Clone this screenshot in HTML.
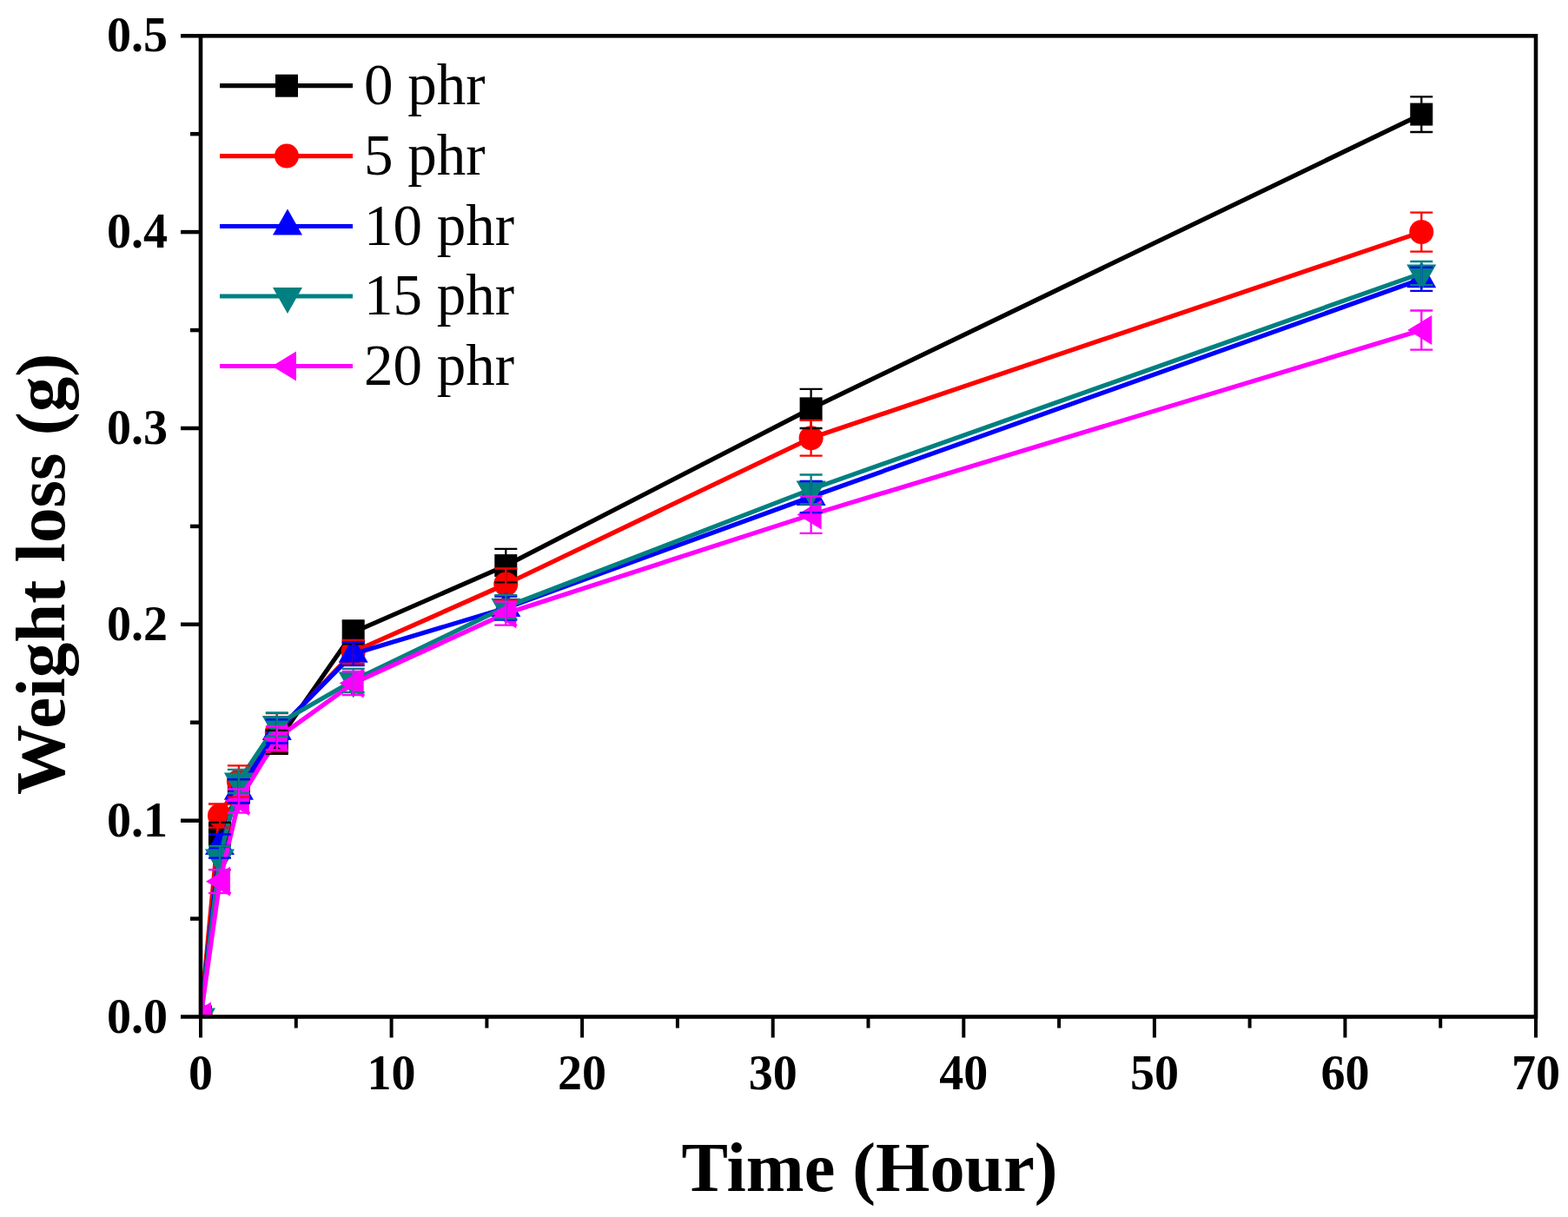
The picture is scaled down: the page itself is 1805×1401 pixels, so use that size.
<!DOCTYPE html>
<html><head><meta charset="utf-8"><title>Weight loss vs Time</title>
<style>
html,body{margin:0;padding:0;background:#fff;width:1805px;height:1401px;overflow:hidden}
svg{display:block}
text{font-family:"Liberation Serif","Times New Roman",serif;fill:#000}
.tl{font-weight:bold;font-size:56px}
.at{font-weight:bold;font-size:81px}
.lg{font-size:67px}
</style></head><body>
<svg width="1805" height="1401" viewBox="0 0 1805 1401">
<defs><clipPath id="pc"><rect x="231.0" y="41.3" width="1537.0" height="1129.2"/></clipPath></defs>
<rect width="1805" height="1401" fill="#fff"/>
<g clip-path="url(#pc)">
<polyline points="231.0,1170.5 253.0,960.5 274.9,910.8 318.8,854.3 406.7,727.9 582.3,651.1 933.6,470.4 1636.3,131.6" fill="none" stroke="#000000" stroke-width="5.2" stroke-linejoin="round"/>
<rect x="218.0" y="1157.5" width="26" height="26" fill="#000000"/>
<rect x="240.0" y="947.5" width="26" height="26" fill="#000000"/>
<rect x="261.9" y="897.8" width="26" height="26" fill="#000000"/>
<rect x="305.8" y="841.3" width="26" height="26" fill="#000000"/>
<rect x="393.7" y="714.9" width="26" height="26" fill="#000000"/>
<rect x="569.3" y="638.1" width="26" height="26" fill="#000000"/>
<rect x="920.6" y="457.4" width="26" height="26" fill="#000000"/>
<rect x="1623.3" y="118.6" width="26" height="26" fill="#000000"/>
<polyline points="231.0,1170.5 253.0,939.0 274.9,899.5 318.8,843.0 406.7,750.4 582.3,672.5 933.6,504.3 1636.3,267.1" fill="none" stroke="#ff0000" stroke-width="5.2" stroke-linejoin="round"/>
<circle cx="231.0" cy="1170.5" r="14" fill="#ff0000"/>
<circle cx="253.0" cy="939.0" r="14" fill="#ff0000"/>
<circle cx="274.9" cy="899.5" r="14" fill="#ff0000"/>
<circle cx="318.8" cy="843.0" r="14" fill="#ff0000"/>
<circle cx="406.7" cy="750.4" r="14" fill="#ff0000"/>
<circle cx="582.3" cy="672.5" r="14" fill="#ff0000"/>
<circle cx="933.6" cy="504.3" r="14" fill="#ff0000"/>
<circle cx="1636.3" cy="267.1" r="14" fill="#ff0000"/>
<polyline points="231.0,1170.5 253.0,974.0 274.9,910.8 318.8,841.9 406.7,752.7 582.3,700.1 933.6,572.0 1636.3,321.3" fill="none" stroke="#0000ff" stroke-width="5.2" stroke-linejoin="round"/>
<polygon points="231.0,1150.5 248.0,1180.5 214.0,1180.5" fill="#0000ff"/>
<polygon points="253.0,954.0 270.0,984.0 236.0,984.0" fill="#0000ff"/>
<polygon points="274.9,890.8 291.9,920.8 257.9,920.8" fill="#0000ff"/>
<polygon points="318.8,821.9 335.8,851.9 301.8,851.9" fill="#0000ff"/>
<polygon points="406.7,732.7 423.7,762.7 389.7,762.7" fill="#0000ff"/>
<polygon points="582.3,680.1 599.3,710.1 565.3,710.1" fill="#0000ff"/>
<polygon points="933.6,552.0 950.6,582.0 916.6,582.0" fill="#0000ff"/>
<polygon points="1636.3,301.3 1653.3,331.3 1619.3,331.3" fill="#0000ff"/>
<polyline points="231.0,1170.5 253.0,987.6 274.9,899.5 318.8,834.0 406.7,783.4 582.3,698.7 933.6,563.4 1636.3,314.6" fill="none" stroke="#008080" stroke-width="5.2" stroke-linejoin="round"/>
<polygon points="231.0,1190.5 248.0,1160.5 214.0,1160.5" fill="#008080"/>
<polygon points="253.0,1007.6 270.0,977.6 236.0,977.6" fill="#008080"/>
<polygon points="274.9,919.5 291.9,889.5 257.9,889.5" fill="#008080"/>
<polygon points="318.8,854.0 335.8,824.0 301.8,824.0" fill="#008080"/>
<polygon points="406.7,803.4 423.7,773.4 389.7,773.4" fill="#008080"/>
<polygon points="582.3,718.7 599.3,688.7 565.3,688.7" fill="#008080"/>
<polygon points="933.6,583.4 950.6,553.4 916.6,553.4" fill="#008080"/>
<polygon points="1636.3,334.6 1653.3,304.6 1619.3,304.6" fill="#008080"/>
<polyline points="231.0,1170.5 253.0,1014.7 274.9,922.1 318.8,849.8 406.7,786.6 582.3,706.2 933.6,592.6 1636.3,380.1" fill="none" stroke="#ff00ff" stroke-width="5.2" stroke-linejoin="round"/>
<polygon points="215.0,1170.5 243.0,1153.5 243.0,1187.5" fill="#ff00ff"/>
<polygon points="237.0,1014.7 265.0,997.7 265.0,1031.7" fill="#ff00ff"/>
<polygon points="258.9,922.1 286.9,905.1 286.9,939.1" fill="#ff00ff"/>
<polygon points="302.8,849.8 330.8,832.8 330.8,866.8" fill="#ff00ff"/>
<polygon points="390.7,786.6 418.7,769.6 418.7,803.6" fill="#ff00ff"/>
<polygon points="566.3,706.2 594.3,689.2 594.3,723.2" fill="#ff00ff"/>
<polygon points="917.6,592.6 945.6,575.6 945.6,609.6" fill="#ff00ff"/>
<polygon points="1620.3,380.1 1648.3,363.1 1648.3,397.1" fill="#ff00ff"/>
<path d="M253.0,946.9V974.0M240.0,946.9H266.0M240.0,974.0H266.0" stroke="#000000" stroke-width="2.3" fill="none"/>
<path d="M274.9,897.2V924.3M261.9,897.2H287.9M261.9,924.3H287.9" stroke="#000000" stroke-width="2.3" fill="none"/>
<path d="M318.8,840.8V867.9M305.8,840.8H331.8M305.8,867.9H331.8" stroke="#000000" stroke-width="2.3" fill="none"/>
<path d="M406.7,714.3V741.4M393.7,714.3H419.7M393.7,741.4H419.7" stroke="#000000" stroke-width="2.3" fill="none"/>
<path d="M582.3,631.9V670.3M569.3,631.9H595.3M569.3,670.3H595.3" stroke="#000000" stroke-width="2.3" fill="none"/>
<path d="M933.6,447.8V493.0M920.6,447.8H946.6M920.6,493.0H946.6" stroke="#000000" stroke-width="2.3" fill="none"/>
<path d="M1636.3,111.3V152.0M1623.3,111.3H1649.3M1623.3,152.0H1649.3" stroke="#000000" stroke-width="2.3" fill="none"/>
<path d="M253.0,925.5V952.6M240.0,925.5H266.0M240.0,952.6H266.0" stroke="#ff0000" stroke-width="2.3" fill="none"/>
<path d="M274.9,881.4V917.6M261.9,881.4H287.9M261.9,917.6H287.9" stroke="#ff0000" stroke-width="2.3" fill="none"/>
<path d="M318.8,821.1V864.9M305.8,821.1H331.8M305.8,864.9H331.8" stroke="#ff0000" stroke-width="2.3" fill="none"/>
<path d="M406.7,736.9V764.0M393.7,736.9H419.7M393.7,764.0H419.7" stroke="#ff0000" stroke-width="2.3" fill="none"/>
<path d="M582.3,654.5V690.6M569.3,654.5H595.3M569.3,690.6H595.3" stroke="#ff0000" stroke-width="2.3" fill="none"/>
<path d="M933.6,483.9V524.6M920.6,483.9H946.6M920.6,524.6H946.6" stroke="#ff0000" stroke-width="2.3" fill="none"/>
<path d="M1636.3,244.6V289.7M1623.3,244.6H1649.3M1623.3,289.7H1649.3" stroke="#ff0000" stroke-width="2.3" fill="none"/>
<path d="M253.0,960.5V987.6M240.0,960.5H266.0M240.0,987.6H266.0" stroke="#0000ff" stroke-width="2.3" fill="none"/>
<path d="M274.9,897.2V924.3M261.9,897.2H287.9M261.9,924.3H287.9" stroke="#0000ff" stroke-width="2.3" fill="none"/>
<path d="M318.8,828.4V855.5M305.8,828.4H331.8M305.8,855.5H331.8" stroke="#0000ff" stroke-width="2.3" fill="none"/>
<path d="M406.7,739.1V766.2M393.7,739.1H419.7M393.7,766.2H419.7" stroke="#0000ff" stroke-width="2.3" fill="none"/>
<path d="M582.3,686.5V713.6M569.3,686.5H595.3M569.3,713.6H595.3" stroke="#0000ff" stroke-width="2.3" fill="none"/>
<path d="M933.6,554.0V590.1M920.6,554.0H946.6M920.6,590.1H946.6" stroke="#0000ff" stroke-width="2.3" fill="none"/>
<path d="M1636.3,307.8V334.9M1623.3,307.8H1649.3M1623.3,334.9H1649.3" stroke="#0000ff" stroke-width="2.3" fill="none"/>
<path d="M253.0,974.0V1001.1M240.0,974.0H266.0M240.0,1001.1H266.0" stroke="#008080" stroke-width="2.3" fill="none"/>
<path d="M274.9,885.9V913.0M261.9,885.9H287.9M261.9,913.0H287.9" stroke="#008080" stroke-width="2.3" fill="none"/>
<path d="M318.8,820.4V847.5M305.8,820.4H331.8M305.8,847.5H331.8" stroke="#008080" stroke-width="2.3" fill="none"/>
<path d="M406.7,769.9V797.0M393.7,769.9H419.7M393.7,797.0H419.7" stroke="#008080" stroke-width="2.3" fill="none"/>
<path d="M582.3,685.2V712.3M569.3,685.2H595.3M569.3,712.3H595.3" stroke="#008080" stroke-width="2.3" fill="none"/>
<path d="M933.6,546.5V580.4M920.6,546.5H946.6M920.6,580.4H946.6" stroke="#008080" stroke-width="2.3" fill="none"/>
<path d="M1636.3,301.0V328.1M1623.3,301.0H1649.3M1623.3,328.1H1649.3" stroke="#008080" stroke-width="2.3" fill="none"/>
<path d="M253.0,1001.1V1028.2M240.0,1001.1H266.0M240.0,1028.2H266.0" stroke="#ff00ff" stroke-width="2.3" fill="none"/>
<path d="M274.9,908.5V935.6M261.9,908.5H287.9M261.9,935.6H287.9" stroke="#ff00ff" stroke-width="2.3" fill="none"/>
<path d="M318.8,836.3V863.4M305.8,836.3H331.8M305.8,863.4H331.8" stroke="#ff00ff" stroke-width="2.3" fill="none"/>
<path d="M406.7,773.0V800.1M393.7,773.0H419.7M393.7,800.1H419.7" stroke="#ff00ff" stroke-width="2.3" fill="none"/>
<path d="M582.3,692.6V719.7M569.3,692.6H595.3M569.3,719.7H595.3" stroke="#ff00ff" stroke-width="2.3" fill="none"/>
<path d="M933.6,571.3V613.8M920.6,571.3H946.6M920.6,613.8H946.6" stroke="#ff00ff" stroke-width="2.3" fill="none"/>
<path d="M1636.3,357.5V402.6M1623.3,357.5H1649.3M1623.3,402.6H1649.3" stroke="#ff00ff" stroke-width="2.3" fill="none"/>
</g>
<rect x="231.0" y="41.3" width="1537.0" height="1129.2" fill="none" stroke="#000" stroke-width="4.6"/>
<line x1="208.0" y1="1170.5" x2="231.0" y2="1170.5" stroke="#000" stroke-width="4.5"/>
<line x1="219.0" y1="1057.6" x2="231.0" y2="1057.6" stroke="#000" stroke-width="4.5"/>
<line x1="208.0" y1="944.7" x2="231.0" y2="944.7" stroke="#000" stroke-width="4.5"/>
<line x1="219.0" y1="831.7" x2="231.0" y2="831.7" stroke="#000" stroke-width="4.5"/>
<line x1="208.0" y1="718.8" x2="231.0" y2="718.8" stroke="#000" stroke-width="4.5"/>
<line x1="219.0" y1="605.9" x2="231.0" y2="605.9" stroke="#000" stroke-width="4.5"/>
<line x1="208.0" y1="493.0" x2="231.0" y2="493.0" stroke="#000" stroke-width="4.5"/>
<line x1="219.0" y1="380.1" x2="231.0" y2="380.1" stroke="#000" stroke-width="4.5"/>
<line x1="208.0" y1="267.1" x2="231.0" y2="267.1" stroke="#000" stroke-width="4.5"/>
<line x1="219.0" y1="154.2" x2="231.0" y2="154.2" stroke="#000" stroke-width="4.5"/>
<line x1="208.0" y1="41.3" x2="231.0" y2="41.3" stroke="#000" stroke-width="4.5"/>
<line x1="231.0" y1="1170.5" x2="231.0" y2="1194.5" stroke="#000" stroke-width="4"/>
<line x1="340.8" y1="1170.5" x2="340.8" y2="1183.5" stroke="#000" stroke-width="4"/>
<line x1="450.6" y1="1170.5" x2="450.6" y2="1194.5" stroke="#000" stroke-width="4"/>
<line x1="560.4" y1="1170.5" x2="560.4" y2="1183.5" stroke="#000" stroke-width="4"/>
<line x1="670.1" y1="1170.5" x2="670.1" y2="1194.5" stroke="#000" stroke-width="4"/>
<line x1="779.9" y1="1170.5" x2="779.9" y2="1183.5" stroke="#000" stroke-width="4"/>
<line x1="889.7" y1="1170.5" x2="889.7" y2="1194.5" stroke="#000" stroke-width="4"/>
<line x1="999.5" y1="1170.5" x2="999.5" y2="1183.5" stroke="#000" stroke-width="4"/>
<line x1="1109.3" y1="1170.5" x2="1109.3" y2="1194.5" stroke="#000" stroke-width="4"/>
<line x1="1219.1" y1="1170.5" x2="1219.1" y2="1183.5" stroke="#000" stroke-width="4"/>
<line x1="1328.9" y1="1170.5" x2="1328.9" y2="1194.5" stroke="#000" stroke-width="4"/>
<line x1="1438.6" y1="1170.5" x2="1438.6" y2="1183.5" stroke="#000" stroke-width="4"/>
<line x1="1548.4" y1="1170.5" x2="1548.4" y2="1194.5" stroke="#000" stroke-width="4"/>
<line x1="1658.2" y1="1170.5" x2="1658.2" y2="1183.5" stroke="#000" stroke-width="4"/>
<line x1="1768.0" y1="1170.5" x2="1768.0" y2="1194.5" stroke="#000" stroke-width="4"/>
<text x="193" y="1188.5" text-anchor="end" class="tl">0.0</text>
<text x="193" y="962.7" text-anchor="end" class="tl">0.1</text>
<text x="193" y="736.8" text-anchor="end" class="tl">0.2</text>
<text x="193" y="511.0" text-anchor="end" class="tl">0.3</text>
<text x="193" y="285.1" text-anchor="end" class="tl">0.4</text>
<text x="193" y="59.3" text-anchor="end" class="tl">0.5</text>
<text x="231.0" y="1254" text-anchor="middle" class="tl">0</text>
<text x="450.6" y="1254" text-anchor="middle" class="tl">10</text>
<text x="670.1" y="1254" text-anchor="middle" class="tl">20</text>
<text x="889.7" y="1254" text-anchor="middle" class="tl">30</text>
<text x="1109.3" y="1254" text-anchor="middle" class="tl">40</text>
<text x="1328.9" y="1254" text-anchor="middle" class="tl">50</text>
<text x="1548.4" y="1254" text-anchor="middle" class="tl">60</text>
<text x="1768.0" y="1254" text-anchor="middle" class="tl">70</text>
<text x="1001" y="1371" text-anchor="middle" class="at" textLength="433" lengthAdjust="spacingAndGlyphs">Time (Hour)</text>
<text transform="translate(74,661) rotate(-90)" text-anchor="middle" class="at">Weight loss (g)</text>
<line x1="253" y1="98.7" x2="406" y2="98.7" stroke="#000000" stroke-width="5.2"/>
<rect x="317.0" y="85.7" width="26" height="26" fill="#000000"/>
<text x="419" y="119.7" class="lg">0 phr</text>
<line x1="253" y1="179.6" x2="406" y2="179.6" stroke="#ff0000" stroke-width="5.2"/>
<circle cx="330.0" cy="179.6" r="14" fill="#ff0000"/>
<text x="419" y="200.6" class="lg">5 phr</text>
<line x1="253" y1="260.5" x2="406" y2="260.5" stroke="#0000ff" stroke-width="5.2"/>
<polygon points="331.0,240.5 348.0,270.5 314.0,270.5" fill="#0000ff"/>
<text x="419" y="281.5" class="lg">10 phr</text>
<line x1="253" y1="341.0" x2="406" y2="341.0" stroke="#008080" stroke-width="5.2"/>
<polygon points="331.0,361.0 348.0,331.0 314.0,331.0" fill="#008080"/>
<text x="419" y="362.0" class="lg">15 phr</text>
<line x1="253" y1="421.5" x2="406" y2="421.5" stroke="#ff00ff" stroke-width="5.2"/>
<polygon points="313.0,421.5 341.0,404.5 341.0,438.5" fill="#ff00ff"/>
<text x="419" y="442.5" class="lg">20 phr</text>
</svg>
</body></html>
